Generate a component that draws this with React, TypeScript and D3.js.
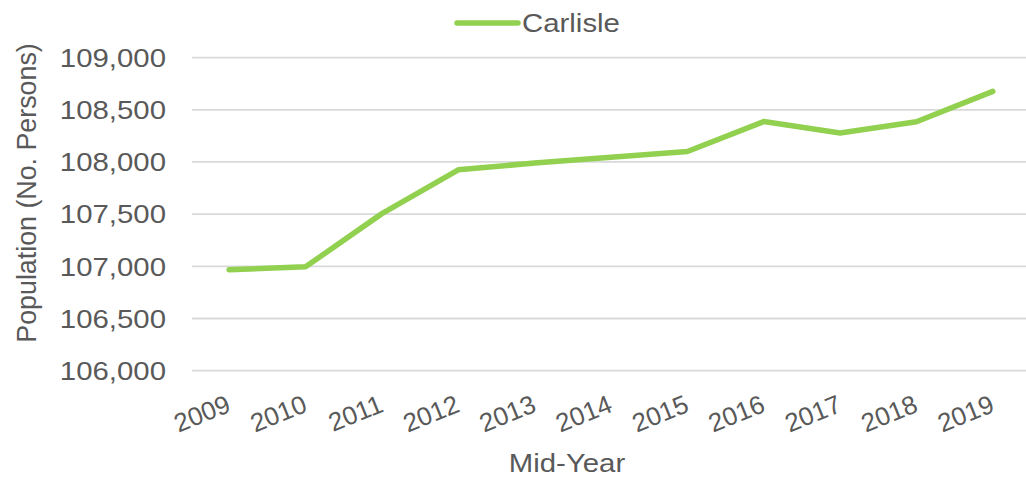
import React from "react";
import * as d3 from "d3";

const years = ["2009", "2010", "2011", "2012", "2013", "2014", "2015", "2016", "2017", "2018", "2019"];
const carlisle = [106968, 106995, 107505, 107925, 107990, 108045, 108100, 108387, 108278, 108385, 108676];
const yTicks = [106000, 106500, 107000, 107500, 108000, 108500, 109000];
const seriesName = "Carlisle";
const xTitle = "Mid-Year";
const yTitle = "Population (No. Persons)";

const W = 1026;
const H = 478;
const TEXT = "#595959";
const GREEN = "#92D050";
const GRID = "#D9D9D9";
const FONT = "'Liberation Sans', Arial, sans-serif";
const SX = 1.13;

function SText({ x, y, anchor, children }: { x: number; y: number; anchor: string; children: React.ReactNode }) {
  return (
    <text
      transform={`translate(${x},${y}) scale(${SX},1)`}
      textAnchor={anchor}
      fontFamily={FONT}
      fontSize={26}
      fill={TEXT}
    >
      {children}
    </text>
  );
}

export default function App() {
  const x = d3.scalePoint<string>().domain(years).range([191, 1031]).padding(0.5);
  const y = d3.scaleLinear().domain([106000, 109000]).range([370.7, 57.6]);
  const line = d3
    .line<number>()
    .x((_, i) => x(years[i]) as number)
    .y((d) => y(d));
  const fmt = d3.format(",");

  return (
    <svg width={W} height={H} style={{ position: "absolute", left: 0, top: 0, background: "#fff" }}>
      {yTicks.map((t) => (
        <line key={t} x1={192} x2={W} y1={y(t)} y2={y(t)} stroke={GRID} strokeWidth={1.8} />
      ))}
      {yTicks.map((t) => (
        <SText key={"l" + t} x={166} y={y(t) + 9.3} anchor="end">
          {fmt(t)}
        </SText>
      ))}
      <text
        transform={`translate(36,193) rotate(-90)`}
        textAnchor="middle"
        fontFamily={FONT}
        fontSize={26.8}
        fill={TEXT}
      >
        {yTitle}
      </text>
      {years.map((yr) => (
        <text
          key={yr}
          transform={`translate(${(x(yr) as number) + 3},411) rotate(-22)`}
          textAnchor="end"
          fontFamily={FONT}
          fontSize={26}
          fill={TEXT}
        >
          {yr}
        </text>
      ))}
      <SText x={567} y={472} anchor="middle">
        {xTitle}
      </SText>
      <path d={line(carlisle) || ""} fill="none" stroke={GREEN} strokeWidth={5.5} strokeLinecap="round" strokeLinejoin="round" />
      <line x1={457} x2={518} y1={23} y2={23} stroke={GREEN} strokeWidth={5.5} strokeLinecap="round" />
      <SText x={522} y={32} anchor="start">
        {seriesName}
      </SText>
    </svg>
  );
}
